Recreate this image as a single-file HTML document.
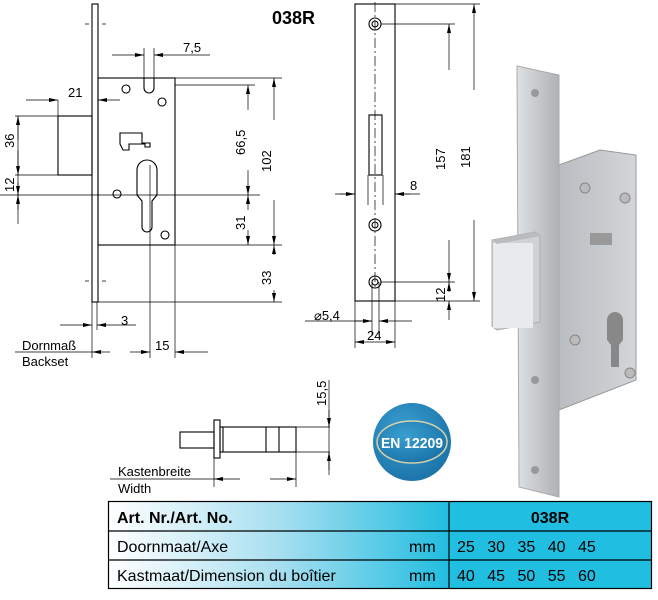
<!DOCTYPE html>
<html><head><meta charset="utf-8"><style>
html,body{margin:0;padding:0;background:#fff;}
svg{display:block;font-family:"Liberation Sans",sans-serif;}
</style></head><body>
<svg width="658" height="600" viewBox="0 0 658 600" xmlns="http://www.w3.org/2000/svg">
<defs>
<marker id="a" markerWidth="9" markerHeight="6" refX="9" refY="3" orient="auto" markerUnits="userSpaceOnUse"><path d="M0,1 L9,3 L0,5z" fill="#000"/></marker>
<linearGradient id="tg" x1="0" x2="1"><stop offset="0" stop-color="#ffffff"/><stop offset="0.5" stop-color="#a8dff0"/><stop offset="1" stop-color="#22bde0"/></linearGradient>
<linearGradient id="fp" x1="0" x2="1"><stop offset="0" stop-color="#dfe1e3"/><stop offset="0.5" stop-color="#c5c9cc"/><stop offset="1" stop-color="#aeb2b5"/></linearGradient>
<linearGradient id="bx" x1="0" x2="1"><stop offset="0" stop-color="#b9bdc1"/><stop offset="1" stop-color="#d3d6d8"/></linearGradient>
<radialGradient id="bd" cx="0.4" cy="0.35" r="0.7"><stop offset="0" stop-color="#3a9fd0"/><stop offset="1" stop-color="#1a72a8"/></radialGradient>
</defs>
<g stroke="#000" stroke-width="1.1" fill="none">
<rect x="92" y="4" width="6" height="298" fill="#fff"/>
<rect x="98" y="78" width="77" height="167"/>
<rect x="58" y="116" width="34" height="59"/>
<path d="M144,78 v10 a5,5 0 0 0 10,0 v-10" />
<path d="M120,133 h22 v10 h8 v4 h-5 v-3 h-16 v6 h-6 l-3,-6z"/>
<path d="M137,170 a10,10 0 0 1 20,0 v25 l-5,6 v26 a5,5 0 0 1 -10,0 v-26 l-5,-6z"/>
<circle cx="126" cy="89" r="4"/><circle cx="162" cy="102" r="4"/><circle cx="117" cy="194" r="4"/><circle cx="165" cy="235" r="4"/>
<path d="M0,195 H260" stroke-width="0.7"/>
<g stroke-width="0.7">
<path d="M85,24 h4 M102,24 h4 M85,281 h4 M102,281 h4"/>
<path d="M15,116 H58 M15,175 H58 M18,116 V175 M18,175 V224" />
<path d="M18,140 V116" marker-end="url(#a)"/><path d="M18,150 V175" marker-end="url(#a)"/>
<path d="M18,210 V195" marker-end="url(#a)"/><path d="M18,182 V195" marker-end="url(#a)"/>
<path d="M58,100 V116 M26,100 H58" marker-end="url(#a)"/><path d="M120,100 H98" marker-end="url(#a)"/>
<path d="M144,48 V78 M154,48 V78"/><path d="M112,55 H144" marker-end="url(#a)"/><path d="M210,55 H154" marker-end="url(#a)"/>
<path d="M175,78 H282 M175,85 H255 M175,245 H282 M98,302 H282"/>
<path d="M248,110 V85" marker-end="url(#a)"/><path d="M248,170 V195" marker-end="url(#a)"/>
<path d="M248,210 V195" marker-end="url(#a)"/><path d="M248,230 V245" marker-end="url(#a)"/>
<path d="M274,120 V78" marker-end="url(#a)"/><path d="M274,200 V245" marker-end="url(#a)"/>
<path d="M274,255 V245" marker-end="url(#a)"/><path d="M274,290 V302" marker-end="url(#a)"/>
<path d="M150,165 V358 M175,245 V358 M92,302 V358 M97,302 V330"/>
<path d="M60,325 H92" marker-end="url(#a)"/><path d="M136,325 H97" marker-end="url(#a)"/>
<path d="M15,352 H92 M110,352 H92" marker-end="url(#a)"/><path d="M130,352 H150" marker-end="url(#a)"/>
<path d="M208,352 H175" marker-end="url(#a)"/>
</g>
<rect x="355" y="4" width="40" height="297"/>
<rect x="369" y="115" width="13" height="60"/>
<circle cx="375" cy="24" r="6"/><circle cx="375" cy="24" r="3"/>
<circle cx="375" cy="225" r="6"/><circle cx="375" cy="225" r="3"/>
<circle cx="375" cy="282" r="6"/><circle cx="375" cy="282" r="3"/>
<g stroke-width="0.7">
<path d="M375,2 V290" stroke-dasharray="10,3,2,3"/>
<path d="M381,24 H455 M381,282 H455 M395,4 H480 M395,301 H480"/>
<path d="M449,70 V24" marker-end="url(#a)"/><path d="M449,240 V282" marker-end="url(#a)"/>
<path d="M449,320 V301" marker-end="url(#a)"/><path d="M449,292 V282" marker-end="url(#a)"/>
<path d="M474,90 V4" marker-end="url(#a)"/><path d="M474,220 V301" marker-end="url(#a)"/>
<path d="M335,194 H355 M420,194 H395" /><path d="M340,194 H355" marker-end="url(#a)"/><path d="M410,194 H395" marker-end="url(#a)"/>
<path d="M368,175 V205 M383,175 V205 M372,282 V335 M379,282 V335 M355,301 V348 M395,301 V348"/>
<path d="M305,321 H372" /><path d="M355,321 H372" marker-end="url(#a)"/><path d="M412,321 H379" marker-end="url(#a)"/>
<path d="M375,342 H355" marker-end="url(#a)"/><path d="M375,342 H395" marker-end="url(#a)"/>
</g>
<rect x="180" y="432" width="34" height="16"/>
<rect x="214" y="420" width="6" height="38"/>
<rect x="220" y="427" width="76" height="25"/>
<path d="M266,427 V452 M279,427 V452 M223,427 V452"/>
<g stroke-width="0.7">
<path d="M296,427 H330 M296,452 H330 M329,380 V475 M214,458 V487 M296,452 V487"/>
<path d="M329,410 V427" marker-end="url(#a)"/><path d="M329,470 V452" marker-end="url(#a)"/>
<path d="M110,479 H214 M240,479 H214" marker-end="url(#a)"/><path d="M270,479 H296" marker-end="url(#a)"/>
</g>
</g>
<g font-size="13" fill="#000">
<text x="183" y="52">7,5</text>
<text x="68" y="97">21</text>
<text transform="translate(14,148) rotate(-90)">36</text>
<text transform="translate(14,192) rotate(-90)">12</text>
<text transform="translate(245,155) rotate(-90)">66,5</text>
<text transform="translate(271,172) rotate(-90)">102</text>
<text transform="translate(245,230) rotate(-90)">31</text>
<text transform="translate(271,285) rotate(-90)">33</text>
<text x="121" y="325">3</text>
<text x="155" y="350">15</text>
<text x="22" y="350">Dornmaß</text>
<text x="22" y="366">Backset</text>
<text x="410" y="190">8</text>
<text transform="translate(445,170) rotate(-90)">157</text>
<text transform="translate(470,168) rotate(-90)">181</text>
<text transform="translate(445,302) rotate(-90)">12</text>
<text x="314" y="320">⌀5,4</text>
<text x="367" y="340">24</text>
<text transform="translate(326,406) rotate(-90)">15,5</text>
<text x="118" y="476">Kastenbreite</text>
<text x="118" y="493">Width</text>
<text x="272" y="24" font-size="18" font-weight="bold">038R</text>
</g>
<circle cx="412" cy="442" r="39" fill="url(#bd)"/>
<ellipse cx="412" cy="442" rx="35" ry="21" fill="url(#bd)" stroke="#d8d2a8" stroke-width="1.5"/>
<text x="412" y="448" font-size="15" font-weight="bold" fill="#fff" text-anchor="middle" textLength="62" lengthAdjust="spacingAndGlyphs">EN 12209</text>
<polygon points="559,165 600,150 636,155 636,380 559,410" fill="url(#bx)" stroke="#999"/>
<polygon points="517,66 559,75 559,497 519,487" fill="url(#fp)" stroke="#aaa"/>
<polygon points="492,240 535,232 540,236 540,322 497,330 492,326" fill="#cfd2d4" stroke="#aaa"/>
<rect x="493" y="243" width="40" height="85" fill="#e9eaeb"/>
<polygon points="492,240 535,232 540,236 497,244" fill="#b8bcbf"/>
<circle cx="535" cy="93" r="4" fill="#999"/><circle cx="535" cy="380" r="4" fill="#999"/><circle cx="535" cy="470" r="4" fill="#999"/>
<path d="M607,320 a8,8 0 0 1 16,0 v20 l-4,5 v22 h-8 v-22 l-4,-5z" fill="#888"/>
<rect x="590" y="233" width="22" height="12" fill="#999"/>
<circle cx="585" cy="188" r="5" fill="#bbb" stroke="#888"/><circle cx="625" cy="198" r="5" fill="#bbb" stroke="#888"/>
<circle cx="575" cy="340" r="5" fill="#bbb" stroke="#888"/><circle cx="630" cy="373" r="5" fill="#bbb" stroke="#888"/>
<rect x="108" y="501" width="341" height="88" fill="url(#tg)"/>
<rect x="449" y="501" width="203" height="88" fill="#20bee0"/>
<g stroke="#000" stroke-width="1.2" fill="none">
<rect x="108.5" y="501.5" width="543" height="87"/>
<path d="M108,531 H652 M108,560 H652 M449,501 V589"/>
</g>
<g font-size="16" fill="#000">
<text x="117" y="523" font-weight="bold">Art. Nr./Art. No.</text>
<text x="550" y="523" font-weight="bold" text-anchor="middle">038R</text>
<text x="117" y="552">Doornmaat/Axe</text>
<text x="117" y="581">Kastmaat/Dimension du boîtier</text>
<text x="409" y="552">mm</text><text x="409" y="581">mm</text>
<text x="457" y="552" word-spacing="8">25 30 35 40 45</text>
<text x="457" y="581" word-spacing="8">40 45 50 55 60</text>
</g>
</svg>
</body></html>
